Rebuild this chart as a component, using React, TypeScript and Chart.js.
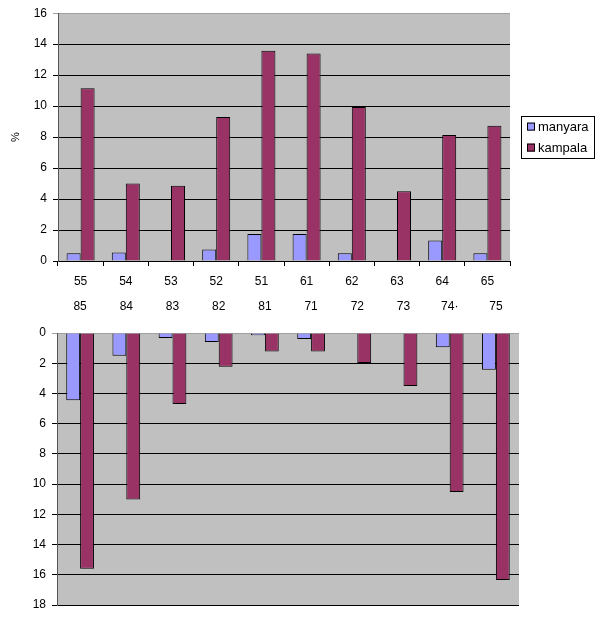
import React, { useEffect, useRef } from "react";
import { Chart, registerables } from "chart.js";

Chart.register(...registerables);

const topCategories = ["55", "54", "53", "52", "51", "61", "62", "63", "64", "65"];
const bottomCategories = ["85", "84", "83", "82", "81", "71", "72", "73", "74·", "75"];
const seriesNames = ["manyara", "kampala"];
const topManyara = [0.5, 0.55, 0, 0.75, 1.75, 1.75, 0.5, 0, 1.33, 0.5];
const topKampala = [11.15, 5.0, 4.86, 9.3, 13.57, 13.4, 9.95, 4.5, 8.13, 8.73];
const bottomManyara = [4.45, 1.5, 0.33, 0.6, 0.15, 0.4, 0, 0, 0.95, 2.43];
const bottomKampala = [15.6, 11.02, 4.7, 2.23, 1.22, 1.22, 1.99, 3.51, 10.53, 16.34];
const colors = ["#9999FF", "#993366"];

const FONT = "'Liberation Sans', Arial, sans-serif";

const bgPlugin = {
  id: "plotBg",
  beforeDraw(chart: any) {
    const { ctx, chartArea } = chart;
    ctx.save();
    ctx.fillStyle = "#C0C0C0";
    ctx.fillRect(chartArea.left, chartArea.top, chartArea.right - chartArea.left, chartArea.bottom - chartArea.top);
    ctx.restore();
  },
};

const legendPlugin = {
  id: "boxLegend",
  afterDraw(chart: any) {
    const { ctx, chartArea } = chart;
    const x = chartArea.right + 11;
    const w = 73;
    const h = 42;
    const y = (chartArea.top + chartArea.bottom) / 2 - h / 2 - 0.5;
    ctx.save();
    ctx.fillStyle = "#FFFFFF";
    ctx.fillRect(x, y, w, h);
    ctx.strokeStyle = "#000";
    ctx.lineWidth = 1;
    ctx.strokeRect(Math.round(x) + 0.5, Math.round(y) + 0.5, w, h);
    ctx.font = `13px ${FONT}`;
    ctx.textBaseline = "middle";
    chart.data.datasets.forEach((ds: any, i: number) => {
      const cy = y + 11 + i * 21;
      ctx.fillStyle = ds.backgroundColor;
      ctx.fillRect(x + 6, cy - 4, 8, 8);
      ctx.strokeStyle = "#000";
      ctx.strokeRect(x + 6.5, cy - 3.5, 7, 7);
      ctx.fillStyle = "#000";
      ctx.fillText(ds.label, x + 17, cy + 1);
    });
    ctx.restore();
  },
};

function TopChart() {
  const ref = useRef<HTMLCanvasElement>(null);
  useEffect(() => {
    const chart = new Chart(ref.current!, {
      type: "bar",
      data: {
        labels: topCategories,
        datasets: [
          { label: seriesNames[0], data: topManyara, backgroundColor: colors[0], borderColor: "#000", borderWidth: 1 },
          { label: seriesNames[1], data: topKampala, backgroundColor: colors[1], borderColor: "#000", borderWidth: 1 },
        ],
      },
      options: {
        animation: false,
        responsive: false,
        layout: { padding: { top: 13, right: 90, bottom: 0, left: 0 } },
        datasets: { bar: { categoryPercentage: 0.62, barPercentage: 1 } },
        plugins: { legend: { display: false }, tooltip: { enabled: false } },
        scales: {
          x: {
            grid: { drawOnChartArea: false, drawTicks: true, tickLength: 5, color: "#000" },
            border: { display: true, color: "#000" },
            ticks: { color: "#000", font: { family: FONT, size: 12 }, padding: 8 },
            afterFit: (s: any) => { s.height = 30; },
          },
          y: {
            min: 0,
            max: 16,
            ticks: { stepSize: 2, color: "#000", font: { family: FONT, size: 12 }, padding: 6 },
            grid: {
              color: (c: any) => (c.tick && c.tick.value === 16 ? "#A0A0A0" : "#000"),
              tickLength: 5,
              drawTicks: true,
            },
            border: { display: true, color: "#555" },
            title: { display: true, text: "%", color: "#000", font: { family: FONT, size: 11 }, padding: { top: 9, bottom: 4 } },
            afterFit: (s: any) => { s.width = 58; },
          },
        },
      },
      plugins: [bgPlugin, legendPlugin],
    });
    return () => chart.destroy();
  }, []);
  return <canvas ref={ref} width={600} height={291} style={{ display: "block" }} />;
}

function BottomChart() {
  const ref = useRef<HTMLCanvasElement>(null);
  useEffect(() => {
    const chart = new Chart(ref.current!, {
      type: "bar",
      data: {
        labels: bottomCategories,
        datasets: [
          { label: seriesNames[0], data: bottomManyara, backgroundColor: colors[0], borderColor: "#000", borderWidth: 1 },
          { label: seriesNames[1], data: bottomKampala, backgroundColor: colors[1], borderColor: "#000", borderWidth: 1 },
        ],
      },
      options: {
        animation: false,
        responsive: false,
        layout: { padding: { top: 0, right: 81, bottom: 14, left: 0 } },
        datasets: { bar: { categoryPercentage: 0.6, barPercentage: 1 } },
        plugins: { legend: { display: false }, tooltip: { enabled: false } },
        scales: {
          x: {
            position: "top",
            grid: { drawOnChartArea: false, drawTicks: false },
            border: { display: false },
            ticks: { color: "#000", font: { family: FONT, size: 12 }, padding: 19 },
            afterFit: (s: any) => { s.height = 42; },
          },
          y: {
            min: 0,
            max: 18,
            reverse: true,
            ticks: { stepSize: 2, color: "#000", font: { family: FONT, size: 12 }, padding: 6 },
            grid: {
              color: (c: any) => (c.tick && c.tick.value === 0 ? "#A0A0A0" : "#000"),
              tickLength: 5,
              drawTicks: true,
            },
            border: { display: true, color: "#555" },
            afterFit: (s: any) => { s.width = 57; },
          },
        },
      },
      plugins: [bgPlugin],
    });
    return () => chart.destroy();
  }, []);
  return <canvas ref={ref} width={600} height={328} style={{ display: "block" }} />;
}

export default function App() {
  return (
    <div style={{ position: "absolute", left: 0, top: 0, width: 600, height: 619, background: "#fff", overflow: "hidden" }}>
      <TopChart />
      <BottomChart />
    </div>
  );
}
